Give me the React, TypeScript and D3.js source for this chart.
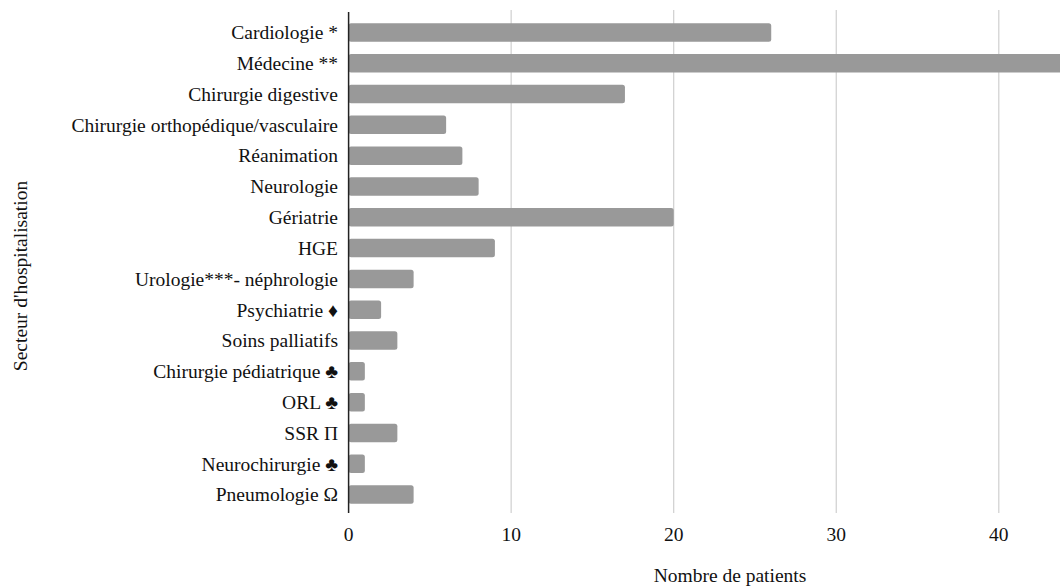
import React from "react";
import * as d3 from "d3";

const categories = [
  "Cardiologie *",
  "Médecine **",
  "Chirurgie digestive",
  "Chirurgie orthopédique/vasculaire",
  "Réanimation",
  "Neurologie",
  "Gériatrie",
  "HGE",
  "Urologie***- néphrologie",
  "Psychiatrie ♦",
  "Soins palliatifs",
  "Chirurgie pédiatrique ♣",
  "ORL ♣",
  "SSR Π",
  "Neurochirurgie ♣",
  "Pneumologie Ω",
];
const values = [26, 44, 17, 6, 7, 8, 20, 9, 4, 2, 3, 1, 1, 3, 1, 4];
const xTicks = [0, 10, 20, 30, 40];

const W = 1060;
const H = 586;
const FONT = "Liberation Serif, DejaVu Serif, Times New Roman, serif";
const FS = 19.5;

export default function App() {
  const x = d3.scaleLinear().domain([0, 40]).range([348.6, 998.8]);
  const y = d3
    .scaleBand<string>()
    .domain(categories)
    .range([17, 510])
    .paddingInner(0.4)
    .paddingOuter(0.2);
  const axisTop = 10;
  const axisBottom = 513;
  const ts = { fontFamily: FONT, fontSize: FS, fill: "#111" } as React.CSSProperties;

  return (
    <svg
      width={W}
      height={H}
      style={{ position: "absolute", left: 0, top: 0, background: "#fff" }}
    >
      {xTicks
        .filter((t) => t !== 0)
        .map((t) => (
          <line
            key={"g" + t}
            x1={x(t)}
            x2={x(t)}
            y1={axisTop}
            y2={axisBottom}
            stroke="#cfcfcf"
            strokeWidth={1.2}
          />
        ))}
      {categories.map((c, i) => {
        const x0 = x(0);
        const x1 = Math.min(x(values[i]), W + 10);
        return (
          <rect
            key={c}
            x={x0}
            y={y(c)}
            width={x1 - x0}
            height={y.bandwidth()}
            rx={2.5}
            fill="#999999"
          />
        );
      })}
      <line
        x1={x(0)}
        x2={x(0)}
        y1={axisTop + 2}
        y2={axisBottom}
        stroke="#222"
        strokeWidth={1.5}
      />
      {categories.map((c) => (
        <text
          key={"l" + c}
          x={338}
          y={(y(c) as number) + y.bandwidth() / 2}
          dy="0.35em"
          textAnchor="end"
          style={ts}
        >
          {c}
        </text>
      ))}
      {xTicks.map((t) => (
        <text
          key={"t" + t}
          x={x(t)}
          y={534}
          dy="0.35em"
          textAnchor="middle"
          style={ts}
        >
          {t}
        </text>
      ))}
      <text x={730} y={575} dy="0.35em" textAnchor="middle" style={ts}>
        Nombre de patients
      </text>
      <text
        transform={`translate(20,276) rotate(-90)`}
        dy="0.35em"
        textAnchor="middle"
        style={ts}
      >
        Secteur d'hospitalisation
      </text>
    </svg>
  );
}
